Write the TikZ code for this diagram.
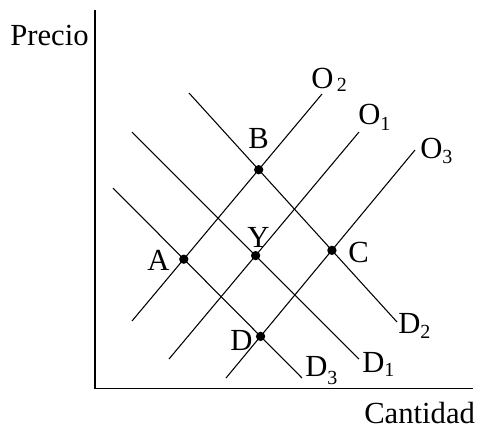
\documentclass[tikz,border=0pt]{standalone}
\usepackage{fontspec}
\setmainfont{Liberation Serif}
\newcommand{\lblsub}[2][-4pt]{\raisebox{#1}{\fontsize{15}{15}\selectfont #2}}
\begin{document}
\begin{tikzpicture}[x=0.75pt,y=-0.75pt,
  lbl/.style={anchor=base west, inner sep=0pt, font=\fontsize{23}{23}\selectfont},
  curve/.style={line width=0.8pt},
  axisline/.style={line width=1pt},
  dot/.style={circle, fill=black, draw=none, inner sep=0pt, minimum size=7pt}]
\useasboundingbox (0,0) rectangle (481,430);
% axes
\coordinate (ytop) at (95,10);
\coordinate (orig) at (95,388.5);
\coordinate (xend) at (473,388.5);
\draw[axisline] (ytop) -- (orig) -- (xend);
% supply curves
\coordinate (o2s) at (132,321); \coordinate (o2e) at (322,94);
\coordinate (o1s) at (169,359); \coordinate (o1e) at (359,132);
\coordinate (o3s) at (226,378); \coordinate (o3e) at (415,150);
% demand curves
\coordinate (d2s) at (189,93);  \coordinate (d2e) at (397,322);
\coordinate (d1s) at (132,132); \coordinate (d1e) at (359,359);
\coordinate (d3s) at (113,188); \coordinate (d3e) at (302,378);
\draw[curve] (o2s) -- (o2e);
\draw[curve] (o1s) -- (o1e);
\draw[curve] (o3s) -- (o3e);
\draw[curve] (d2s) -- (d2e);
\draw[curve] (d1s) -- (d1e);
\draw[curve] (d3s) -- (d3e);
% equilibrium points
\node[dot] (B) at (intersection of o2s--o2e and d2s--d2e) {};
\node[dot] (A) at (intersection of o2s--o2e and d3s--d3e) {};
\node[dot] (Y) at (intersection of o1s--o1e and d1s--d1e) {};
\node[dot] (C) at (intersection of o3s--o3e and d2s--d2e) {};
\node[dot] (D) at (intersection of o3s--o3e and d3s--d3e) {};
% labels
\node[lbl] (lprecio) at (10,45) {Precio};
\node[lbl] (lcant) at (364,423) {Cantidad};
\node[lbl] (lo2) at (311,88) {O\hspace{2.5pt}\lblsub[-2.5pt]{2}};
\node[lbl] (lo1) at (358,124) {O\lblsub[-5pt]{1}};
\node[lbl] (lo3) at (420,158) {O\lblsub{3}};
\node[lbl] (lB) at (248,148) {B};
\node[lbl] (lY) at (247,247) {Y};
\node[lbl] (lA) at (147,270) {A};
\node[lbl] (lC) at (348,262) {C};
\node[lbl] (lD) at (230,350) {D};
\node[lbl] (ld2) at (398,333) {D\lblsub{2}};
\node[lbl] (ld1) at (362,372) {D\lblsub[-3.5pt]{1}};
\node[lbl] (ld3) at (305,376) {D\lblsub[-6.5pt]{3}};
\end{tikzpicture}
\end{document}
